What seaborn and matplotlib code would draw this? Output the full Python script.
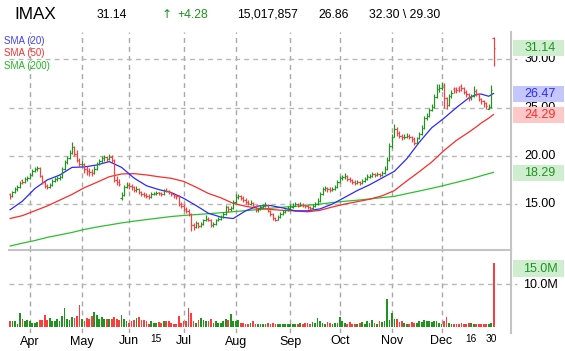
import numpy as np
import pandas as pd
import seaborn as sns
import matplotlib.pyplot as plt
from matplotlib.patches import Rectangle
from matplotlib.transforms import blended_transform_factory

W, H = 565, 351

# Daily bars (one per trading day, Mar .. Dec 30)
opens = [
    16.0, 15.8, 16.2, 16.6, 16.8, 17.5, 17.3, 17.6, 17.7, 18.0,
    18.4, 18.6, 18.7, 17.9, 17.3, 16.9, 16.8, 17.0, 17.4, 17.6,
    17.7, 17.8, 18.6, 19.4, 19.8, 20.3, 20.9, 20.2, 19.6, 19.1,
    19.2, 18.6, 18.4, 18.3, 18.2, 18.6, 19.2, 19.5, 19.8, 19.9,
    19.7, 19.9, 19.6, 17.5, 17.3, 15.6, 15.9, 16.8, 17.0, 16.9,
    16.8, 16.5, 16.6, 16.2, 16.0, 15.9, 15.8, 15.7, 16.0, 16.0,
    16.2, 16.1, 16.0, 16.5, 16.4, 16.2, 16.0, 15.9, 15.8, 15.0,
    14.8, 14.5, 14.3, 14.0, 12.8, 12.6, 13.0, 12.7, 12.9, 13.3,
    13.5, 13.4, 12.8, 12.9, 13.3, 13.5, 13.7, 14.0, 14.7, 14.5,
    14.6, 15.2, 15.7, 15.8, 15.6, 15.4, 15.2, 15.0, 15.1, 14.85,
    14.4, 14.45, 14.7, 14.85, 14.9, 14.3, 14.0, 13.6, 13.4, 13.7,
    14.0, 14.2, 14.35, 14.6, 14.7, 14.85, 15.0, 14.85, 14.95, 14.9,
    14.8, 14.7, 14.55, 14.8, 15.0, 15.3, 16.0, 16.6, 16.7, 16.6,
    16.5, 16.6, 16.8, 17.3, 17.7, 17.8, 17.9, 17.6, 17.5, 17.3,
    17.2, 17.3, 17.2, 17.4, 17.6, 17.8, 17.9, 18.1, 18.0, 18.1,
    18.0, 18.2, 18.6, 19.6, 21.0, 22.0, 22.8, 22.4, 22.1, 21.9,
    22.0, 22.1, 22.0, 21.7, 21.3, 21.8, 22.3, 22.9, 23.9, 24.1,
    24.7, 25.1, 26.1, 26.9, 27.0, 27.3, 26.0, 25.3, 26.2, 26.9,
    27.0, 27.0, 27.2, 27.0, 26.6, 26.4, 26.0, 26.2, 26.7, 26.4,
    25.9, 25.7, 25.5, 24.9, 25.1, 32.2,
]
highs = [
    16.1, 16.4, 16.8, 17.0, 17.4, 17.6, 17.8, 17.9, 18.2, 18.6,
    18.8, 18.9, 18.8, 18.0, 17.4, 17.1, 17.2, 17.6, 17.8, 17.9,
    18.0, 18.8, 19.6, 20.0, 20.6, 21.4, 21.0, 20.6, 19.8, 19.6,
    19.3, 18.9, 18.7, 18.6, 18.9, 19.4, 19.7, 20.0, 20.1, 20.0,
    20.2, 20.1, 19.7, 17.9, 17.6, 16.3, 17.0, 17.3, 17.2, 17.1,
    16.9, 16.9, 16.7, 16.4, 16.2, 16.1, 16.0, 16.2, 16.3, 16.4,
    16.3, 16.3, 16.6, 16.7, 16.5, 16.3, 16.1, 16.0, 15.9, 15.2,
    15.0, 14.7, 14.5, 14.1, 13.0, 13.2, 13.1, 13.1, 13.5, 13.9,
    13.7, 13.5, 13.1, 13.5, 13.7, 13.9, 14.2, 14.9, 14.8, 14.8,
    15.4, 16.0, 16.0, 15.9, 15.8, 15.6, 15.4, 15.4, 15.2, 14.9,
    14.6, 14.9, 15.0, 15.2, 15.0, 14.4, 14.1, 13.7, 13.9, 14.2,
    14.4, 14.5, 14.8, 15.0, 15.1, 15.2, 15.1, 15.2, 15.1, 15.0,
    14.9, 14.8, 15.0, 15.2, 15.6, 16.3, 16.8, 16.9, 16.8, 16.8,
    16.8, 17.0, 17.5, 17.9, 18.0, 18.2, 18.0, 17.8, 17.6, 17.5,
    17.5, 17.4, 17.6, 17.8, 18.1, 18.1, 18.3, 18.2, 18.3, 18.2,
    18.4, 18.9, 19.9, 21.3, 22.3, 23.3, 23.0, 22.6, 22.3, 22.3,
    22.4, 22.3, 22.1, 21.9, 22.0, 22.5, 23.2, 24.1, 24.4, 25.0,
    25.4, 26.4, 27.4, 27.4, 27.6, 27.5, 26.1, 26.4, 26.8, 27.1,
    27.1, 27.2, 27.4, 27.1, 26.8, 26.5, 26.4, 27.2, 26.9, 26.5,
    26.0, 25.8, 25.6, 25.4, 27.3, 32.3,
]
lows = [
    15.5, 15.7, 16.1, 16.4, 16.7, 17.1, 17.2, 17.4, 17.6, 17.9,
    18.3, 18.4, 17.8, 17.1, 16.7, 16.6, 16.7, 16.9, 17.3, 17.4,
    17.5, 17.7, 18.5, 19.2, 19.7, 20.2, 20.0, 19.4, 18.8, 18.9,
    18.2, 18.0, 17.9, 17.9, 18.1, 18.5, 19.0, 19.3, 19.5, 19.4,
    19.6, 19.3, 17.3, 17.0, 16.9, 15.4, 15.8, 16.7, 16.6, 16.5,
    16.3, 16.3, 16.0, 15.8, 15.7, 15.6, 15.5, 15.6, 15.9, 15.9,
    15.9, 15.8, 15.9, 16.2, 16.0, 15.8, 15.6, 15.5, 14.8, 14.6,
    14.3, 14.1, 13.8, 12.2, 12.3, 12.5, 12.5, 12.6, 12.8, 13.2,
    13.2, 12.6, 12.6, 12.8, 13.2, 13.4, 13.6, 13.9, 14.2, 14.3,
    14.5, 15.1, 15.5, 15.4, 15.2, 15.0, 14.9, 14.9, 14.7, 14.2,
    14.2, 14.4, 14.6, 14.7, 14.2, 13.8, 13.4, 13.2, 13.3, 13.6,
    13.9, 14.1, 14.3, 14.5, 14.6, 14.8, 14.7, 14.8, 14.7, 14.6,
    14.5, 14.4, 14.5, 14.7, 14.9, 15.2, 15.9, 16.4, 16.3, 16.3,
    16.4, 16.5, 16.7, 17.2, 17.5, 17.6, 17.4, 17.3, 17.1, 17.0,
    17.1, 17.0, 17.1, 17.3, 17.5, 17.7, 17.8, 17.8, 17.9, 17.8,
    17.9, 18.1, 18.5, 19.5, 20.8, 21.9, 22.1, 21.8, 21.6, 21.7,
    21.8, 21.7, 21.4, 21.1, 21.2, 21.7, 22.2, 22.8, 23.7, 24.0,
    24.6, 25.0, 26.0, 26.6, 26.8, 25.0, 24.9, 25.2, 26.0, 26.5,
    26.5, 26.6, 26.7, 26.4, 26.1, 25.7, 25.8, 26.1, 26.2, 25.7,
    25.4, 25.1, 24.9, 24.8, 25.0, 29.3,
]
closes = [
    15.8, 16.2, 16.6, 16.8, 17.2, 17.3, 17.6, 17.7, 18.0, 18.4,
    18.6, 18.7, 17.9, 17.3, 16.9, 16.8, 17.0, 17.4, 17.6, 17.7,
    17.8, 18.6, 19.4, 19.8, 20.3, 20.9, 20.2, 19.6, 19.1, 19.2,
    18.6, 18.4, 18.3, 18.2, 18.6, 19.2, 19.5, 19.8, 19.9, 19.7,
    19.9, 19.6, 17.5, 17.3, 17.1, 15.9, 16.8, 17.0, 16.9, 16.8,
    16.5, 16.6, 16.2, 16.0, 15.9, 15.8, 15.7, 16.0, 16.1, 16.1,
    16.1, 16.0, 16.4, 16.4, 16.2, 16.0, 15.8, 15.8, 15.0, 14.8,
    14.5, 14.3, 14.0, 12.8, 12.6, 13.0, 12.7, 12.9, 13.3, 13.5,
    13.4, 12.8, 12.9, 13.3, 13.5, 13.7, 14.0, 14.7, 14.5, 14.6,
    15.2, 15.7, 15.8, 15.6, 15.4, 15.2, 15.1, 15.1, 14.85, 14.4,
    14.45, 14.7, 14.85, 14.9, 14.3, 14.0, 13.6, 13.4, 13.7, 14.0,
    14.2, 14.35, 14.6, 14.85, 14.85, 15.0, 14.85, 14.95, 14.9, 14.8,
    14.7, 14.55, 14.8, 15.0, 15.3, 16.0, 16.6, 16.7, 16.6, 16.5,
    16.6, 16.8, 17.3, 17.7, 17.8, 17.9, 17.6, 17.5, 17.3, 17.2,
    17.3, 17.2, 17.4, 17.6, 17.9, 17.9, 18.1, 18.0, 18.1, 18.0,
    18.2, 18.6, 19.6, 21.0, 22.0, 22.8, 22.4, 22.1, 21.9, 22.0,
    22.1, 22.0, 21.7, 21.3, 21.8, 22.3, 22.9, 23.9, 24.1, 24.7,
    25.1, 26.1, 26.9, 27.0, 27.1, 26.0, 25.3, 26.2, 26.5, 26.7,
    26.8, 26.8, 27.0, 26.6, 26.4, 26.0, 26.2, 26.7, 26.4, 25.9,
    25.7, 25.5, 25.2, 25.1, 26.86, 31.14,
]
volume_m = [
    1.2, 1.4, 1.2, 0.6, 3.3, 1.8, 1.4, 1.5, 1.4, 0.8,
    0.9, 1.1, 1.6, 1.6, 2.8, 1.6, 2.1, 1.3, 1.2, 1.8,
    1.2, 2.5, 4.5, 1.8, 1.6, 2.3, 2.0, 2.5, 5.1, 1.8,
    1.3, 2.1, 1.8, 2.5, 3.5, 2.7, 1.7, 2.3, 1.8, 1.8,
    1.8, 1.8, 2.3, 1.8, 1.6, 2.8, 1.8, 1.3, 0.9, 1.4,
    1.6, 2.1, 2.3, 1.5, 1.6, 1.3, 0.7, 1.3, 0.9, 0.9,
    1.1, 0.9, 1.4, 1.2, 1.3, 0.8, 0.6, 0.6, 2.5, 0.9,
    1.2, 1.2, 4.5, 3.2, 1.3, 0.8, 1.6, 2.1, 1.6, 1.2,
    1.2, 1.8, 0.8, 1.2, 0.9, 0.9, 1.3, 1.8, 1.6, 3.0,
    1.3, 1.2, 1.6, 0.8, 0.9, 0.7, 0.6, 0.9, 1.2, 0.6,
    0.5, 0.6, 0.5, 0.6, 0.8, 0.7, 0.9, 0.6, 0.5, 0.6,
    0.7, 0.5, 0.6, 0.5, 0.6, 0.7, 0.5, 0.8, 0.6, 0.9,
    0.9, 0.7, 1.0, 0.8, 2.0, 1.4, 0.9, 0.7, 1.1, 0.8,
    0.6, 0.9, 0.8, 2.3, 1.2, 0.8, 0.7, 1.0, 0.6, 0.5,
    0.6, 0.8, 1.1, 0.7, 1.2, 0.9, 1.6, 0.8, 0.7, 1.3,
    1.0, 1.4, 6.4, 1.6, 3.3, 1.7, 1.7, 1.0, 1.2, 0.8,
    0.7, 0.6, 1.1, 0.9, 0.8, 1.2, 1.0, 1.6, 1.2, 1.3,
    1.0, 1.4, 1.3, 0.9, 0.7, 1.4, 2.3, 0.8, 0.6, 0.7,
    0.5, 0.6, 0.8, 0.7, 0.6, 0.9, 0.8, 0.7, 0.6, 0.6,
    0.5, 0.7, 0.6, 0.5, 0.8, 15.0,
]

# Moving averages read at selected bars
sma_days = list(range(0, 190, 5)) + [188, 190, 193, 195]
sma_days = sorted(set(sma_days))
sma20 = [
    14.4, 15.3, 16.6, 17.5, 18.0, 18.8, 18.85, 19.05, 19.4, 18.8,
    17.7, 16.9, 16.5, 16.2, 15.6, 14.85, 14.05, 13.65, 13.5, 14.3,
    14.8, 14.85, 14.6, 14.3, 14.3, 14.5, 15.0, 15.7, 16.4, 17.0,
    17.7, 18.4, 19.7, 21.4, 22.9, 23.9, 25.0, 26.0, 26.35, 26.4,
    26.17, 26.47,
]
sma50 = [
    13.5, 13.8, 14.3, 14.8, 15.4, 16.0, 16.7, 17.25, 17.83, 18.12,
    18.15, 18.02, 17.83, 17.67, 17.35, 16.75, 16.1, 15.65, 15.07, 14.77,
    14.56, 14.44, 14.35, 14.28, 14.2, 14.35, 14.7, 15.0, 15.25, 15.5,
    15.85, 16.4, 17.4, 18.35, 19.35, 20.55, 21.6, 22.45, 23.0, 23.4,
    23.9, 24.29,
]
sma200 = [
    10.65, 10.95, 11.22, 11.55, 11.8, 12.06, 12.37, 12.62, 12.83, 13.05,
    13.23, 13.39, 13.55, 13.71, 13.82, 13.91, 14.0, 14.1, 14.21, 14.32,
    14.43, 14.56, 14.68, 14.77, 14.88, 15.0, 15.16, 15.29, 15.4, 15.53,
    15.67, 15.8, 16.08, 16.35, 16.63, 16.93, 17.25, 17.57, 17.78, 17.93,
    18.15, 18.29,
]

month_days = [8, 29, 48, 70, 91, 113, 133, 154, 174]
month_labels = ['Apr', 'May', 'Jun', 'Jul', 'Aug', 'Sep', 'Oct', 'Nov', 'Dec']
minor_days = [59, 186, 194]
minor_labels = ['15', '16', '30']

price_ticks = [15, 20, 25, 30]

GREEN = '#1f941f'
RED = '#ff3c3c'
BLUE = '#2a2aff'
SMA_GREEN = '#2cc02c'
GRID = '#a8a8a8'
BORDER = '#c4c4c4'

sns.set_theme(style='white')
plt.rcParams['font.family'] = ['Liberation Sans', 'DejaVu Sans']

bars = pd.DataFrame({'open': opens, 'high': highs, 'low': lows, 'close': closes, 'volume': volume_m})
bars['day'] = np.arange(len(bars))
bars['color'] = np.where(bars['close'] >= bars['open'], GREEN, RED)
sma = pd.DataFrame({'day': sma_days, 'sma20': sma20, 'sma50': sma50, 'sma200': sma200})

fig = plt.figure(figsize=(W / 100, H / 100), dpi=100)
ax = fig.add_axes([9 / W, 1 - 250 / H, 502 / W, 218 / H])
axv = fig.add_axes([9 / W, 1 - 333 / H, 502 / W, 83 / H])

for a in (ax, axv):
    a.set_xlim(-0.4, 202.0)
    a.set_xticks([])
    a.set_yticks([])
    a.set_facecolor('none')
    for s in ('top', 'left', 'bottom'):
        a.spines[s].set_visible(False)
    a.spines['right'].set_color(BORDER)
    a.spines['right'].set_linewidth(1.5)
ax.spines['bottom'].set_visible(True)
ax.spines['bottom'].set_color(BORDER)
ax.spines['bottom'].set_linewidth(1.5)

ax.set_ylim(10.24, 32.83)
axv.set_ylim(-1.54, 18.13)

# Grid
for d in month_days:
    ax.axvline(d, color=GRID, lw=1.0, ls=(0, (3.5, 3)), zorder=0)
    axv.axvline(d, color=GRID, lw=1.0, ls=(0, (3.5, 3)), zorder=0)
for p in price_ticks:
    ax.axhline(p, xmax=1.012, color='#b8b8b8', lw=1.0, ls=(0, (3.5, 3)), clip_on=False, zorder=0)
axv.axhline(10, xmax=1.012, color='#b8b8b8', lw=1.0, ls=(0, (3.5, 3)), clip_on=False, zorder=0)

# SMA lines
sns.lineplot(data=sma, x='day', y='sma200', ax=ax, color=SMA_GREEN, lw=0.9, zorder=2)
sns.lineplot(data=sma, x='day', y='sma50', ax=ax, color='#ff2a2a', lw=0.9, zorder=2)
sns.lineplot(data=sma, x='day', y='sma20', ax=ax, color=BLUE, lw=0.9, zorder=2)
ax.set_xlabel('')
ax.set_ylabel('')

# OHLC bars
x = bars['day'].to_numpy()
ax.vlines(x, bars['low'], bars['high'], colors=bars['color'], lw=0.85, zorder=3)
ax.hlines(bars['open'], x - 0.5, x, colors=bars['color'], lw=0.85, zorder=3)
ax.hlines(bars['close'], x, x + 0.5, colors=bars['color'], lw=0.85, zorder=3)

# Volume
axv.bar(x, bars['volume'], width=0.7, color=bars['color'], linewidth=0, zorder=2)


def fx(px):
    return px / W


def fy(py):
    return 1 - py / H


# Header
fig.text(fx(14), fy(14.5), 'IMAX', fontsize=12.3, va='center', ha='left', color='black')
fig.text(fx(96.5), fy(14.5), '31.14', fontsize=8.8, va='center', ha='left', color='black')
fig.text(fx(161), fy(14.5), '↑', fontsize=8.8, va='center', ha='left', color=GREEN,
         family=['DejaVu Sans'])
fig.text(fx(177.5), fy(14.5), '+4.28', fontsize=8.8, va='center', ha='left', color=GREEN)
fig.text(fx(237.5), fy(14.5), '15,017,857', fontsize=8.8, va='center', ha='left', color='black')
fig.text(fx(318), fy(14.5), '26.86', fontsize=8.8, va='center', ha='left', color='black')
fig.text(fx(369), fy(14.5), '32.30 \\ 29.30', fontsize=8.8, va='center', ha='left', color='black')

# Legend
fig.text(fx(4), fy(41), 'SMA (20)', fontsize=7, va='center', ha='left', color='#4040ff')
fig.text(fx(4), fy(53.5), 'SMA (50)', fontsize=7, va='center', ha='left', color='#ff3030')
fig.text(fx(4), fy(66), 'SMA (200)', fontsize=7, va='center', ha='left', color='#20b820')

# Right axis labels
for p in price_ticks:
    py = 59.3 + (30 - p) * 9.65
    fig.text(fx(540), fy(py), f'{p:.2f}', fontsize=9, va='center', ha='center', color='black')
fig.text(fx(540), fy(285.5), '10.0M', fontsize=9, va='center', ha='center', color='black')


def value_box(py, text, fill, color):
    fig.patches.append(Rectangle((fx(513), fy(py + 8)), 51 / W, 16.5 / H,
                                 transform=fig.transFigure, facecolor=fill,
                                 edgecolor='none', zorder=5))
    fig.text(fx(540), fy(py), text, fontsize=9, va='center', ha='center', color=color, zorder=6)


value_box(48.3, '31.14', '#cfeecf', GREEN)
value_box(94.4, '26.47', '#c6c6ff', '#2a2aff')
value_box(115.0, '24.29', '#ffc8c8', '#ff2a2a')
value_box(173.3, '18.29', '#cfeecf', GREEN)
value_box(268.5, '15.0M', '#cfeecf', GREEN)

# Month labels
trans = blended_transform_factory(axv.transData, fig.transFigure)
for d, lab in zip(month_days, month_labels):
    axv.text(d, fy(341.5), lab, transform=trans, fontsize=9, ha='center', va='center', color='black')
for d, lab in zip(minor_days, minor_labels):
    axv.text(d, fy(339.5), lab, transform=trans, fontsize=7.3, ha='center', va='center', color='black')

fig.savefig('out.png', dpi=100)
